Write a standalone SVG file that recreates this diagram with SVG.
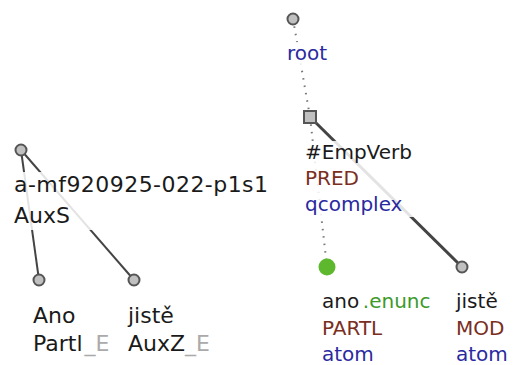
<svg xmlns="http://www.w3.org/2000/svg" width="513" height="365" viewBox="0 0 513 365">
<style>
text{font-family:"DejaVu Sans","Noto Sans",sans-serif;font-size:20px}
text.L{font-size:22px}
.k{fill:#1a1a1a}
.r{fill:#7a2e22}
.b{fill:#2a2aa0}
.g{fill:#3c9a2a}
.e{fill:#aaaaaa}
.n{fill:#c0c0c0;stroke:#555;stroke-width:2}
.bg{fill:#fff;opacity:0.85}
</style>
<rect width="513" height="365" fill="#fff"/>
<g id="connectors">
<line x1="21" y1="150" x2="39" y2="280" stroke="#444" stroke-width="2"/>
<line x1="21" y1="150" x2="134" y2="280" stroke="#444" stroke-width="2"/>
<line x1="293" y1="19" x2="310" y2="117" stroke="#777" stroke-width="2" stroke-dasharray="1.5,6"/>
<line x1="310" y1="117" x2="327" y2="267" stroke="#777" stroke-width="2" stroke-dasharray="1.5,6"/>
<line x1="310" y1="117" x2="462" y2="267" stroke="#444" stroke-width="3"/>
</g>
<g id="labels-bg">
<rect class="bg" x="12" y="172" width="260" height="58"/>
<rect class="bg" x="284" y="42" width="48" height="24"/>
<rect class="bg" x="302" y="141" width="118" height="76"/>
</g>
<g id="n-a-root">
<circle class="n" cx="21" cy="150" r="5.5"/>
<text x="14" y="192" class="L k" textLength="254">a-mf920925-022-p1s1</text>
<text x="14" y="223" class="L k">AuxS</text>
</g>
<g id="n-ano">
<circle class="n" cx="39" cy="280" r="5.5"/>
<text x="33" y="323" class="L k">Ano</text>
<text x="33" y="351" class="L"><tspan class="k">Partl</tspan><tspan class="e" dx="2">_E</tspan></text>
</g>
<g id="n-jiste-a">
<circle class="n" cx="134" cy="280" r="5.5"/>
<text x="128" y="323" class="L k">jistě</text>
<text x="128" y="351" class="L"><tspan class="k">AuxZ</tspan><tspan class="e">_E</tspan></text>
</g>
<g id="n-t-root">
<circle class="n" cx="293" cy="19" r="5.5"/>
<text x="287" y="60" class="b">root</text>
</g>
<g id="n-empverb">
<rect class="n" x="304" y="111" width="12" height="12"/>
<text x="305" y="159" class="k">#EmpVerb</text>
<text x="305" y="185" class="r">PRED</text>
<text x="305" y="211" class="b">qcomplex</text>
</g>
<g id="n-ano-t">
<circle cx="327" cy="267" r="8.5" fill="#5db82e"/>
<text x="322" y="308"><tspan class="k">ano</tspan><tspan class="g" dx="4">.enunc</tspan></text>
<text x="322" y="335" class="r">PARTL</text>
<text x="322" y="361" class="b">atom</text>
</g>
<g id="n-jiste-t">
<circle class="n" cx="462" cy="267" r="5.5"/>
<text x="456" y="308" class="k">jistě</text>
<text x="456" y="335" class="r">MOD</text>
<text x="456" y="361" class="b">atom</text>
</g>
</svg>
